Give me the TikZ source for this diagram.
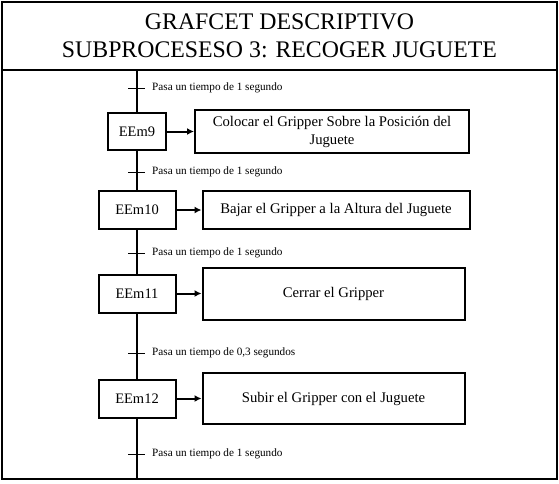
\documentclass[tikz,border=0pt]{standalone}
\usepackage{fontspec}
\setmainfont{Liberation Serif}
\usetikzlibrary{positioning,arrows.meta}

\begin{document}
\begin{tikzpicture}[x=1pt, y=-1pt, node distance={25pt},
    etapa/.style = {draw, line width=2pt, fill=white, inner sep=0pt, minimum width=77pt, minimum height=38pt, font=\fontsize{14.5}{16}\selectfont},
    accion/.style = {draw, line width=2pt, fill=white, inner sep=0pt, align=center, font=\fontsize{14.7}{18}\selectfont},
    trans/.style = {anchor=west, inner sep=0pt, font=\fontsize{11.2}{13}\selectfont},
    marca/.style = {line width=1pt},
    flecha/.style = {line width=2pt, -{Latex[length=7pt,width=7pt]}}]
    \useasboundingbox (0,0) rectangle (559,483);
    % marco y encabezado
    \draw[line width=2pt] (2,2) rectangle (557,479);
    \draw[line width=2pt] (2,70) -- (557,70);
    \node[align=center, font=\fontsize{23.8}{28}\selectfont] (titulo) at (279.5,36) {GRAFCET DESCRIPTIVO\\SUBPROCESESO 3: RECOGER JUGUETE};
    \coordinate (inicio) at (137,70);
    \coordinate (fin) at (137,479);
    \draw[line width=2pt] (inicio) -- (fin);
    % etapas
    \node[etapa, minimum width=58pt, minimum height=37pt] (9) at (137,131.5) {EEm9};
    \node[etapa] (10) at (137,210) {EEm10};
    \node[etapa] (11) at (137,293.5) {EEm11};
    \node[etapa] (12) at (137,398.5) {EEm12};
    % acciones
    \node[accion, minimum width=274pt, minimum height=43pt] (a9) [right=27pt of 9] {Colocar el Gripper Sobre la Posición del\\Juguete};
    \node[accion, minimum width=267pt, minimum height=38pt] (a10) [right=of 10] {Bajar el Gripper a la Altura del Juguete};
    \node[accion, minimum width=262pt, minimum height=52pt] (a11) [right=of 11] {Cerrar el Gripper};
    \node[accion, minimum width=262pt, minimum height=51pt] (a12) [right=of 12] {Subir el Gripper con el Juguete};
    \draw[flecha] (9) -- (a9);
    \draw[flecha] (10) -- (a10);
    \draw[flecha] (11) -- (a11);
    \draw[flecha] (12) -- (a12);
    % transiciones
    \coordinate (t1) at (137,88);
    \coordinate (t2) at (137,172);
    \coordinate (t3) at (137,253);
    \coordinate (t4) at (137,353);
    \coordinate (t5) at (137,454);
    \foreach \t/\txt in {t1/Pasa un tiempo de 1 segundo, t2/Pasa un tiempo de 1 segundo, t3/Pasa un tiempo de 1 segundo, t4/{Pasa un tiempo de 0,3 segundos}, t5/Pasa un tiempo de 1 segundo} {
        \draw[marca] ([xshift=-9pt]\t) -- ([xshift=8pt]\t);
        \node[trans] (l\t) at ([xshift=15pt]\t) {\txt};
    }
\end{tikzpicture}
\end{document}
